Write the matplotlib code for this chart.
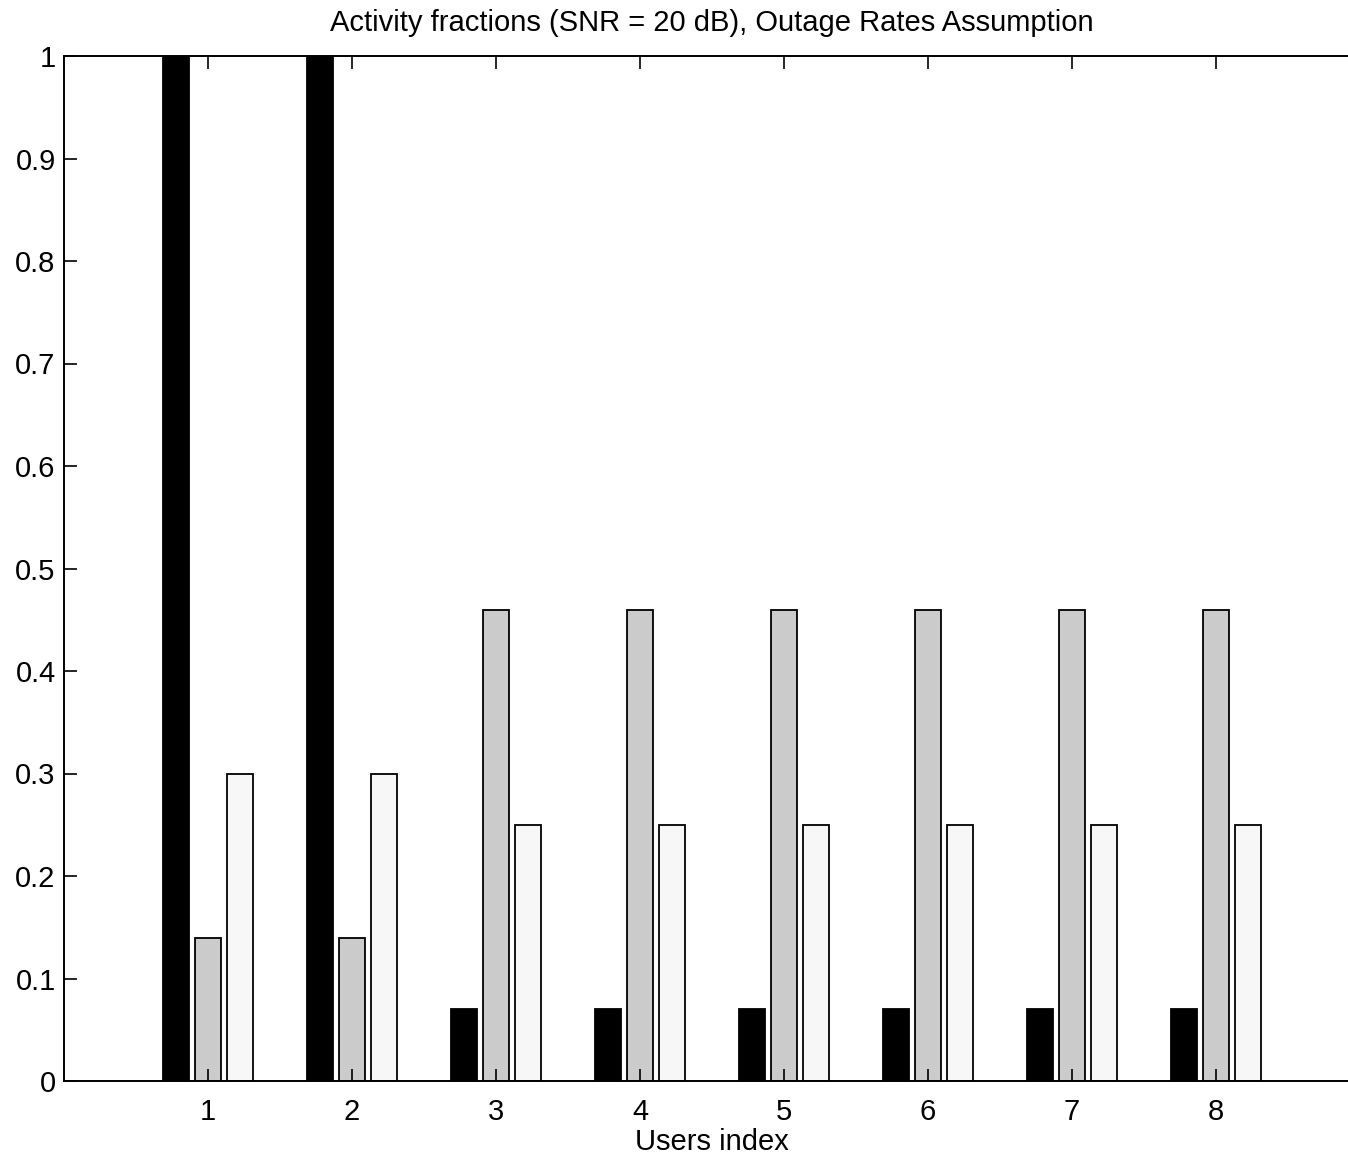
import numpy as np
import matplotlib
matplotlib.use("Agg")
import matplotlib.pyplot as plt

# bar heights
users = [1, 2, 3, 4, 5, 6, 7, 8]
black_vals = [1.0, 1.0, 0.07, 0.07, 0.07, 0.07, 0.07, 0.07]
gray_vals = [0.14, 0.14, 0.46, 0.46, 0.46, 0.46, 0.46, 0.46]
white_vals = [0.30, 0.30, 0.25, 0.25, 0.25, 0.25, 0.25, 0.25]
yticks = [0, 0.1, 0.2, 0.3, 0.4, 0.5, 0.6, 0.7, 0.8, 0.9, 1]

plt.rcParams['font.family'] = ['Liberation Sans', 'DejaVu Sans']

fig = plt.figure(figsize=(13.48, 11.57), dpi=100)
ax = fig.add_axes([64 / 1348, 1 - 1081 / 1157, 1296 / 1348, 1025 / 1157])

x = np.array(users, dtype=float)
w = 0.178
off = 0.222
ax.bar(x - off, black_vals, w, color='black', edgecolor='black', linewidth=1.3)
ax.bar(x, gray_vals, w, color='#cbcbcb', edgecolor='black', linewidth=1.3)
ax.bar(x + off, white_vals, w, color='#f7f7f7', edgecolor='black', linewidth=1.3)

ax.set_xlim(0, 9)
ax.set_ylim(0, 1)
ax.set_xticks(users)
ax.set_yticks(yticks)
ax.set_yticklabels(['%g' % v for v in yticks])
ax.tick_params(direction='in', length=9, width=1.2, labelsize=21, top=True, right=True)
ax.tick_params(axis='x', pad=12)
ax.tick_params(axis='y', pad=6)
for s in ax.spines.values():
    s.set_linewidth(1.4)

ax.set_xlabel('Users index', fontsize=21, labelpad=2)
ax.set_title('Activity fractions (SNR = 20 dB), Outage Rates Assumption', fontsize=21, pad=18)

fig.savefig('out.png', dpi=100)
